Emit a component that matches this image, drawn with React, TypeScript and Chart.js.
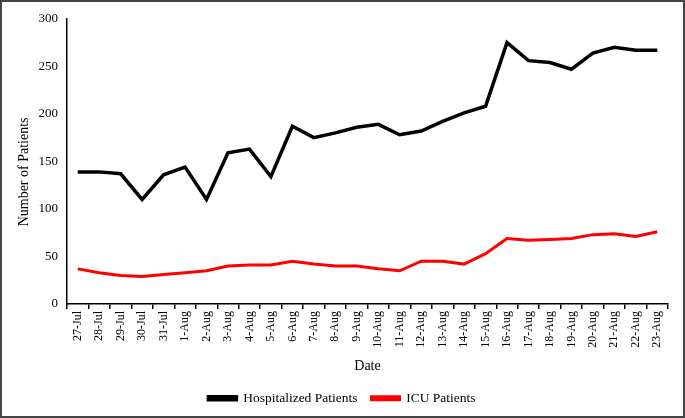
import React, { useEffect, useRef } from "react";
import { Chart, registerables } from "chart.js";

Chart.register(...registerables);

const dates = [
  "27-Jul", "28-Jul", "29-Jul", "30-Jul", "31-Jul", "1-Aug", "2-Aug", "3-Aug", "4-Aug", "5-Aug",
  "6-Aug", "7-Aug", "8-Aug", "9-Aug", "10-Aug", "11-Aug", "12-Aug", "13-Aug", "14-Aug", "15-Aug",
  "16-Aug", "17-Aug", "18-Aug", "19-Aug", "20-Aug", "21-Aug", "22-Aug", "23-Aug",
];

const hospitalized = [
  139, 139, 137, 110, 136, 144, 110, 159, 163, 134,
  187, 175, 180, 186, 189, 178, 182, 192, 201, 208,
  275, 256, 254, 247, 264, 270, 267, 267,
];

const icu = [
  37, 33, 30, 29, 31, 33, 35, 40, 41, 41,
  45, 42, 40, 40, 37, 35, 45, 45, 42, 53,
  69, 67, 68, 69, 73, 74, 71, 76,
];

const FONT = "'Liberation Serif', 'Times New Roman', serif";

export default function App() {
  const ref = useRef<HTMLCanvasElement>(null);
  useEffect(() => {
    if (!ref.current) return;
    const chart = new Chart(ref.current, {
      type: "line",
      data: {
        labels: dates,
        datasets: [
          {
            label: "Hospitalized Patients",
            data: hospitalized,
            borderColor: "#000000",
            backgroundColor: "#000000",
            borderWidth: 3.5,
            pointRadius: 0,
            tension: 0,
          },
          {
            label: "ICU Patients",
            data: icu,
            borderColor: "#FF0000",
            backgroundColor: "#FF0000",
            borderWidth: 3,
            pointRadius: 0,
            tension: 0,
          },
        ],
      },
      options: {
        animation: false,
        responsive: false,
        maintainAspectRatio: false,
        layout: { padding: { top: 15, right: 15, left: 14, bottom: 1 } },
        plugins: {
          tooltip: { enabled: false },
          legend: {
            position: "bottom",
            labels: {
              color: "#000",
              font: { family: FONT, size: 13.5 },
              boxWidth: 28,
              boxHeight: 3,
              padding: 14,
            },
          },
        },
        scales: {
          x: {
            offset: true,
            grid: {
              display: true,
              offset: true,
              drawOnChartArea: false,
              drawTicks: true,
              tickLength: 5,
              color: "#000",
              lineWidth: 1.5,
            },
            border: { color: "#000", width: 1.5 },
            ticks: {
              color: "#000",
              font: { family: FONT, size: 12 },
              minRotation: 90,
              maxRotation: 90,
              autoSkip: false,
              padding: 2,
            },
            title: {
              display: true,
              text: "Date",
              color: "#000",
              font: { family: FONT, size: 14 },
              padding: { top: 8, bottom: 3 },
            },
          },
          y: {
            min: 0,
            max: 300,
            afterFit: (scale: any) => {
              scale.width = 51;
            },
            grid: { display: false, drawTicks: false },
            border: { color: "#000", width: 1.5 },
            ticks: {
              stepSize: 50,
              color: "#000",
              font: { family: FONT, size: 13 },
              padding: 9,
            },
            title: {
              display: true,
              text: "Number of Patients      ",
              color: "#000",
              font: { family: FONT, size: 14 },
              padding: { top: 0, bottom: 0 },
            },
          },
        },
      },
    });
    return () => chart.destroy();
  }, []);
  return (
    <div
      style={{
        position: "fixed",
        left: 0,
        top: 0,
        width: 685,
        height: 418,
        boxSizing: "border-box",
        border: "2px solid #444",
        background: "#fff",
      }}
    >
      <canvas ref={ref} width={681} height={414} style={{ display: "block" }} />
    </div>
  );
}
